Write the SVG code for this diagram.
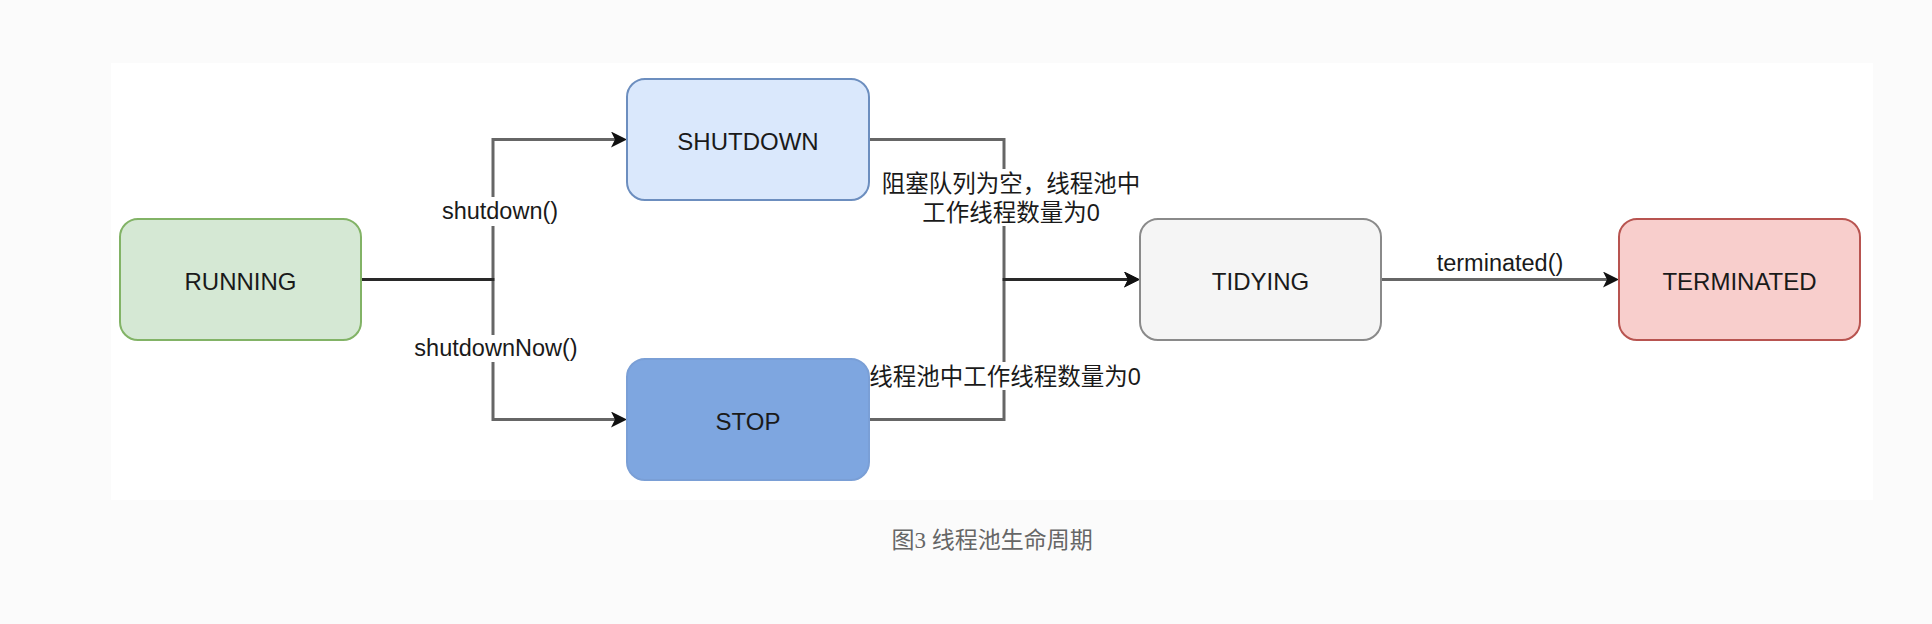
<svg xmlns="http://www.w3.org/2000/svg" width="1932" height="624" viewBox="0 0 1932 624">
<defs>
<marker id="arr" viewBox="0 0 16 16" markerWidth="16" markerHeight="16" refX="4" refY="8" orient="auto" markerUnits="userSpaceOnUse">
<path d="M0,0 L16,8 L0,16 L4,8 Z" fill="#111"/>
</marker>
<style>
.node{stroke-width:2}
.nt{font-family:"Liberation Sans",Arial,sans-serif;font-size:24px;fill:#1a1a1a;text-anchor:middle}
.lbl{font-family:"Liberation Sans",Arial,sans-serif;font-size:23.5px;fill:#1a1a1a;text-anchor:middle}
.cjk{font-family:"Liberation Sans","Noto Sans CJK SC",sans-serif;font-size:23.5px;fill:#1a1a1a;text-anchor:middle}
.edge{fill:none;stroke:#000;stroke-opacity:0.6;stroke-width:3;marker-end:url(#arr)}
.bg{fill:#fff}
</style>
</defs>
<rect x="0" y="0" width="1932" height="624" fill="#fbfbfb"/>
<rect x="111" y="63" width="1762" height="437" fill="#fff"/>

<g id="connectors">
<path class="edge" d="M361,279.5 H493 V139.5 H615"/>
<path class="edge" d="M361,279.5 H493 V419.5 H615"/>
<path class="edge" d="M869,139.5 H1004 V279.5 H1128"/>
<path class="edge" d="M869,419.5 H1004 V279.5 H1128"/>
<path class="edge" d="M1381,279.5 H1607"/>
<g id="edge-labels">
<rect class="bg" x="440" y="197" width="121" height="29"/>
<text class="lbl" x="500" y="219">shutdown()</text>
<rect class="bg" x="412" y="335" width="168" height="27"/>
<text class="lbl" x="496" y="356">shutdownNow()</text>
<rect class="bg" x="878" y="169" width="266" height="57"/>
<text class="cjk" x="1011" y="192">阻塞队列为空，线程池中</text>
<text class="cjk" x="1011" y="221">工作线程数量为0</text>
<rect class="bg" x="866" y="362" width="277" height="28"/>
<text class="cjk" x="1005" y="385">线程池中工作线程数量为0</text>
<text class="lbl" x="1500" y="271">terminated()</text>
</g>
</g>

<g id="running">
<rect class="node" x="120" y="219" width="241" height="121" rx="18" fill="#d5e8d4" stroke="#82b366"/>
<text class="nt" x="240.5" y="289.5">RUNNING</text>
</g>
<g id="shutdown">
<rect class="node" x="627" y="79" width="242" height="121" rx="18" fill="#dae8fc" stroke="#6c8ebf"/>
<text class="nt" x="748" y="149.5">SHUTDOWN</text>
</g>
<g id="stop">
<rect class="node" x="627" y="359" width="242" height="121" rx="18" fill="#7ea6e0" stroke="#7a9fd6"/>
<text class="nt" x="748" y="429.5">STOP</text>
</g>
<g id="tidying">
<rect class="node" x="1140" y="219" width="241" height="121" rx="18" fill="#f5f5f5" stroke="#8a8a8a"/>
<text class="nt" x="1260.5" y="289.5">TIDYING</text>
</g>
<g id="terminated">
<rect class="node" x="1619" y="219" width="241" height="121" rx="18" fill="#f8cecc" stroke="#b85450"/>
<text class="nt" x="1739.5" y="289.5">TERMINATED</text>
</g>

<text x="992" y="548" font-family="'Liberation Serif','Noto Sans CJK SC',serif" font-size="23" fill="#666" text-anchor="middle">图3 线程池生命周期</text>
</svg>
